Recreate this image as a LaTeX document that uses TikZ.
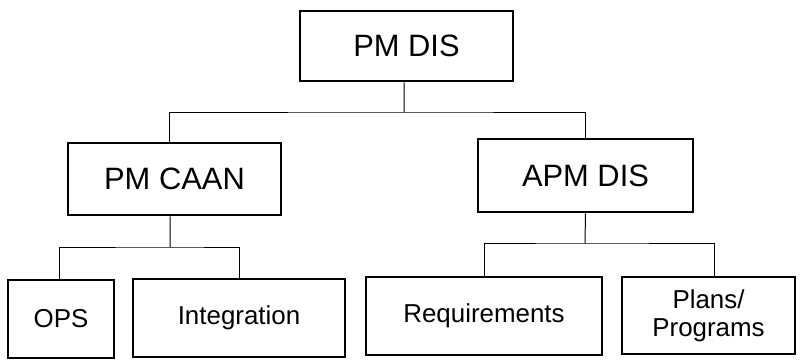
\documentclass[tikz,border=0pt]{standalone}
\usepackage{fontspec}
\setmainfont{Liberation Sans}
\usetikzlibrary{positioning}

\begin{document}
\begin{tikzpicture}[x=1bp, y=-1bp,
	box/.style={draw, line width=2.8bp, inner sep=0pt, align=center},
	big/.style={box, font=\fontsize{31}{33}\selectfont},
	small/.style={box, font=\fontsize{26}{28}\selectfont},
	conn/.style={line width=1bp}]
	\path[use as bounding box] (0,0) rectangle (803,360);
	
	\node [big, minimum width=213bp, minimum height=70bp] (pmdis) at (406.5,46) {PM DIS};
	\node [big, minimum width=213bp, minimum height=72bp] (caan) at (174.5,179) {PM CAAN};
	\node [big, minimum width=215bp, minimum height=73bp] (apm) at (585.5,175.5) {APM DIS};
	
	\node [small, minimum width=106bp, minimum height=78bp] (ops) at (61,319) {OPS};
	\node [small, minimum width=212bp, minimum height=78bp] (integ) at (239,318) {Integration};
	\node [small, minimum width=236bp, minimum height=78bp] (req) at (484,316) {Requirements};
	\node [small, minimum width=173bp, minimum height=77bp] (plans) at (708.5,315.5) {Plans/\\Programs};
	
	% top level
	\coordinate (bus1) at (404,112);
	\draw [conn] ([xshift=-2.5bp]pmdis.south) -- (bus1);
	\draw [conn] ([xshift=-5bp]caan.north) |- (bus1) -| (apm.north);
	
	% under PM CAAN
	\coordinate (bus2) at (170,247);
	\draw [conn] ([xshift=-4.5bp]caan.south) -- (bus2);
	\draw [conn] ([xshift=-2bp]ops.north) |- (bus2) -| (integ.north);
	
	% under APM DIS
	\coordinate (bus3) at (585,243);
	\draw [conn] (apm.south) -- (bus3);
	\draw [conn] (req.north) |- (bus3) -| ([xshift=6bp]plans.north);
\end{tikzpicture}
\end{document}
